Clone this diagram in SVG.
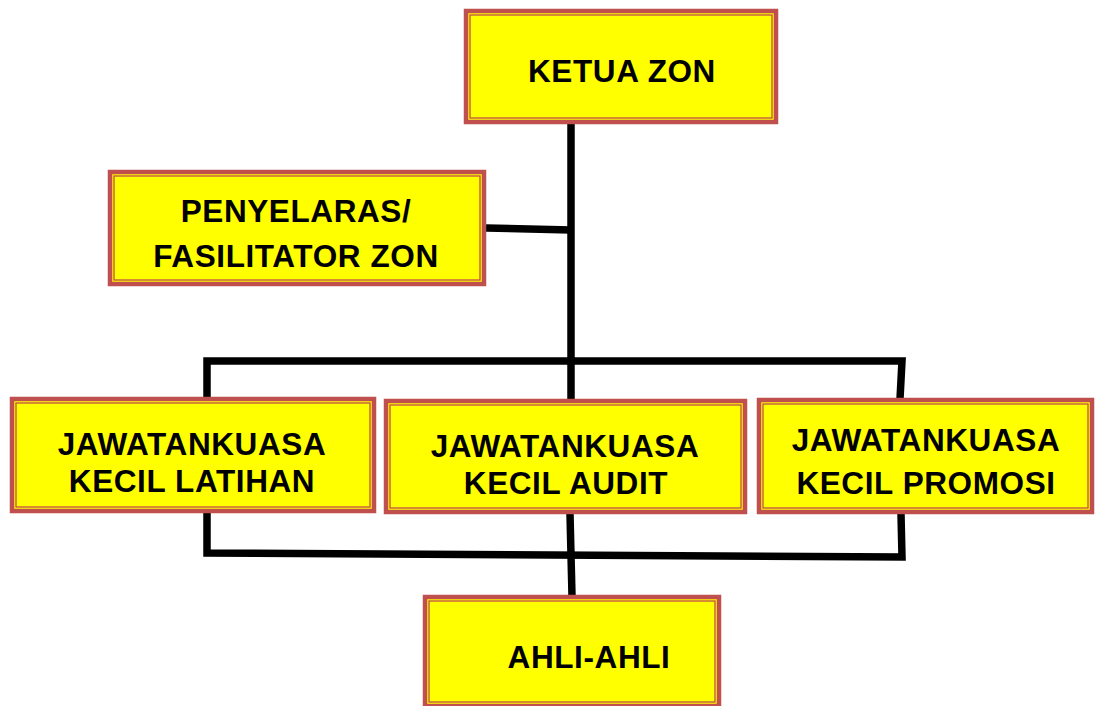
<svg xmlns="http://www.w3.org/2000/svg" width="1095" height="706" viewBox="0 0 1095 706">
<style>
.outer{fill:#FFFF00;stroke:#C0504D;stroke-width:4.5}
.inner{fill:none;stroke:#C0504D;stroke-width:1.3}
.t{font-family:"Liberation Sans",Arial,sans-serif;font-weight:bold;font-size:31.5px;letter-spacing:0.6px;fill:#000;text-anchor:middle}
.c{fill:none;stroke:#000;stroke-width:7.5;stroke-linejoin:miter;stroke-linecap:butt}
</style>
<rect width="1095" height="706" fill="#fff"/>
<g id="connectors">
<path class="c" d="M571,124 L571,400"/>
<path class="c" d="M486,228 L571,230"/>
<path class="c" d="M207,398 L207,361 L902,361 L900,399"/>
<path class="c" d="M207,513 L207,553 L902,557 L901,514"/>
<path class="c" d="M570,514 L572,596"/>
</g>
<g id="ketua">
<rect class="outer" x="466" y="11" width="310" height="111"/>
<rect class="inner" x="470" y="15" width="302" height="103"/>
<text class="t" x="622" y="82">KETUA ZON</text>
</g>
<g id="penyelaras">
<rect class="outer" x="110" y="172" width="374" height="112"/>
<rect class="inner" x="114" y="176" width="366" height="104"/>
<text class="t" x="296" y="222">PENYELARAS/</text>
<text class="t" x="296" y="267">FASILITATOR ZON</text>
</g>
<g id="latihan">
<rect class="outer" x="12" y="399" width="362" height="112"/>
<rect class="inner" x="16" y="403" width="354" height="104"/>
<text class="t" x="192" y="455">JAWATANKUASA</text>
<text class="t" x="192" y="492">KECIL LATIHAN</text>
</g>
<g id="audit">
<rect class="outer" x="386" y="401" width="359" height="111"/>
<rect class="inner" x="390" y="405" width="351" height="103"/>
<text class="t" x="565" y="457">JAWATANKUASA</text>
<text class="t" x="566" y="494">KECIL AUDIT</text>
</g>
<g id="promosi">
<rect class="outer" x="759" y="400" width="333" height="112"/>
<rect class="inner" x="763" y="404" width="325" height="104"/>
<text class="t" x="926" y="451">JAWATANKUASA</text>
<text class="t" x="926" y="494">KECIL PROMOSI</text>
</g>
<g id="ahli">
<rect class="outer" x="425" y="597" width="294" height="109"/>
<rect class="inner" x="429" y="601" width="286" height="101"/>
<text class="t" x="589" y="668">AHLI-AHLI</text>
</g>
</svg>
